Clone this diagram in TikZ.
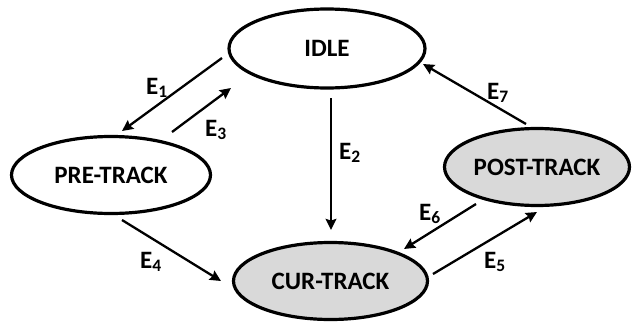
\documentclass[tikz,border=0pt]{standalone}
\usepackage{fontspec}
\setmainfont{Carlito}
\usetikzlibrary{shapes.geometric,arrows.meta}
\definecolor{lightfill}{RGB}{217,217,217}
\begin{document}
\begin{tikzpicture}[x=1pt,y=-1pt,
  state/.style={ellipse,draw,line width=3.2pt,inner sep=0pt,font=\bfseries\fontsize{25}{28}\selectfont},
  active/.style={state,fill=lightfill},
  arr/.style={line width=2.3pt,-{Stealth[length=11pt,width=10.5pt,inset=1.5pt]}},
  lab/.style={font=\bfseries\fontsize{25}{28}\selectfont,inner sep=0pt}]
\useasboundingbox (0,0) rectangle (632,324);
\node[state,minimum width=196pt,minimum height=79pt] (idle) at (327,48.5) {IDLE};
\node[state,minimum width=199pt,minimum height=77pt] (pre) at (111,175) {PRE-TRACK};
\node[active,minimum width=194pt,minimum height=77pt] (cur) at (330.5,281) {CUR-TRACK};
\node[active,minimum width=185pt,minimum height=77pt] (post) at (537,167) {POST-TRACK};
% E1
\draw[arr] ([shift={(-105,9.5)}]idle.center) -- ([shift={(11,-44)}]pre.center);
% E3
\draw[arr] ([shift={(61,-43)}]pre.center) -- ([shift={(-96,39.5)}]idle.center);
% E2
\draw[arr] ([shift={(4,49.5)}]idle.center) -- ([shift={(0.5,-51)}]cur.center);
% E7
\draw[arr] ([shift={(-11,-43)}]post.center) -- ([shift={(96,15.5)}]idle.center);
% E4
\draw[arr] ([shift={(11,45)}]pre.center) -- ([shift={(-109.5,0)}]cur.center);
% E6
\draw[arr] ([shift={(-61,37)}]post.center) -- ([shift={(73.5,-32)}]cur.center);
% E5
\draw[arr] ([shift={(102.5,-7)}]cur.center) -- ([shift={(0,45)}]post.center);
\node[lab] (l1) at (157,88) {E\textsubscript{1}};
\node[lab] (l3) at (216,130) {E\textsubscript{3}};
\node[lab] (l2) at (350,153) {E\textsubscript{2}};
\node[lab] (l7) at (498,93) {E\textsubscript{7}};
\node[lab] (l4) at (151,262) {E\textsubscript{4}};
\node[lab] (l6) at (430,214) {E\textsubscript{6}};
\node[lab] (l5) at (495,262) {E\textsubscript{5}};
\end{tikzpicture}
\end{document}
